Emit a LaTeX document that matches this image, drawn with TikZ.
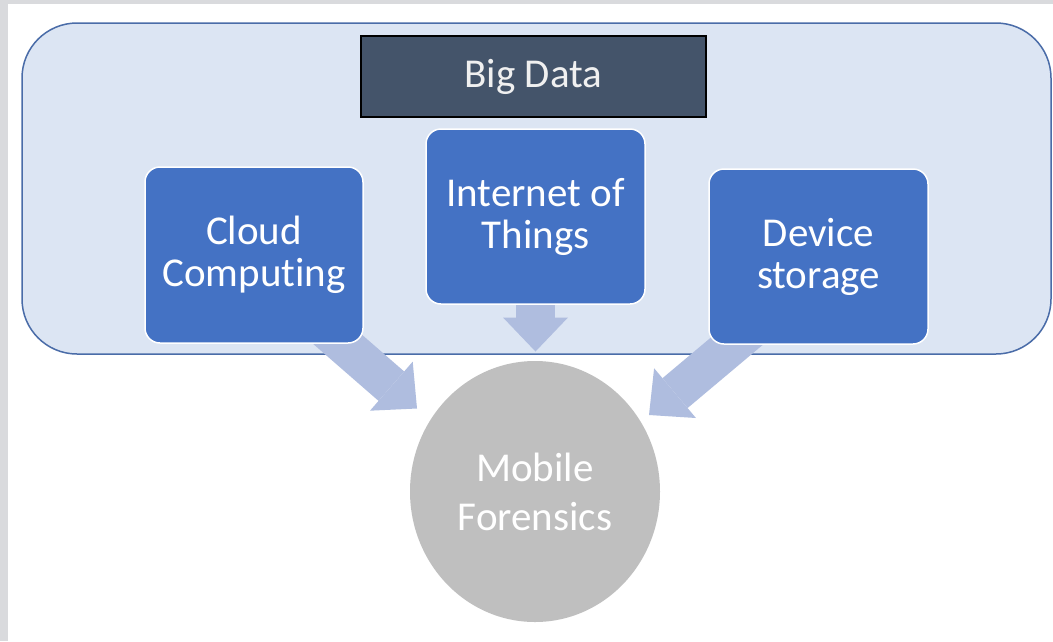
\documentclass[tikz,border=0pt]{standalone}
\usepackage{fontspec}
\setmainfont{Carlito}[Ligatures=NoCommon]
\usetikzlibrary{arrows.meta,shapes.geometric}
\definecolor{slidegray}{HTML}{D9DADD}
\definecolor{contfill}{HTML}{DCE5F3}
\definecolor{contline}{HTML}{4A6CA8}
\definecolor{darkslate}{HTML}{44546A}
\definecolor{boxblue}{HTML}{4472C4}
\definecolor{arrowc}{HTML}{AFBDDF}
\definecolor{circgray}{HTML}{BFBFBF}
\definecolor{lighttext}{HTML}{F0F0F0}
\tikzset{
  bigfont/.style={font=\fontsize{41}{42}\selectfont},
  bluebox/.style={rectangle, rounded corners=15pt, fill=boxblue, draw=white, line width=1.5pt,
    minimum width=218pt, minimum height=175pt, inner sep=0pt, align=center, text=white, bigfont},
  titlebox/.style={rectangle, fill=darkslate, draw=black, line width=1.5pt,
    minimum width=345pt, minimum height=81pt, inner sep=0pt, text=lighttext, bigfont},
  fatarrow/.style={draw=arrowc, line width=39pt,
    -{Triangle[length=34pt,width=65pt,line width=0pt]}},
}
\begin{document}
\begin{tikzpicture}[x=1pt,y=-1pt]
\useasboundingbox (0,0) rectangle (1053,641);
\fill[slidegray] (0,0) rectangle (1053,641);
\fill[white] (8,4) rectangle (1053,641);
% container
\draw[fill=contfill, draw=contline, line width=1.5pt, rounded corners=55pt] (22,23) rectangle (1051,354);
\node[titlebox] (bigdata) at (533.5,76.5) {Big Data};
% mobile forensics
\node[ellipse, fill=circgray, minimum width=250pt, minimum height=261pt, inner sep=0pt,
  align=center, text=white, font=\fontsize{41}{49}\selectfont] (mobile) at (535,491.5) {Mobile\\Forensics};
% arrows
\coordinate (cloudc) at (254,255);
\coordinate (iotc) at (535.5,216.5);
\coordinate (devc) at (818.5,256.5);
\coordinate (lstart) at (266,277);
\coordinate (ltip) at (417,408.5);
\coordinate (rstart) at (802,286.4);
\coordinate (rtip) at (649,415);
\coordinate (ctip) at (535.5,351.5);
\draw[fatarrow] (lstart) -- (ltip);
\draw[fatarrow] (iotc) -- (ctip);
\draw[fatarrow] (rstart) -- (rtip);
% boxes
\node[bluebox, minimum height=176pt] (cloud) at (cloudc) {Cloud\\Computing};
\node[bluebox, minimum width=219pt] (iot) at (iotc) {Internet of\\Things};
\node[bluebox, minimum width=219pt] (device) at (devc) {Device\\storage};
\end{tikzpicture}
\end{document}
